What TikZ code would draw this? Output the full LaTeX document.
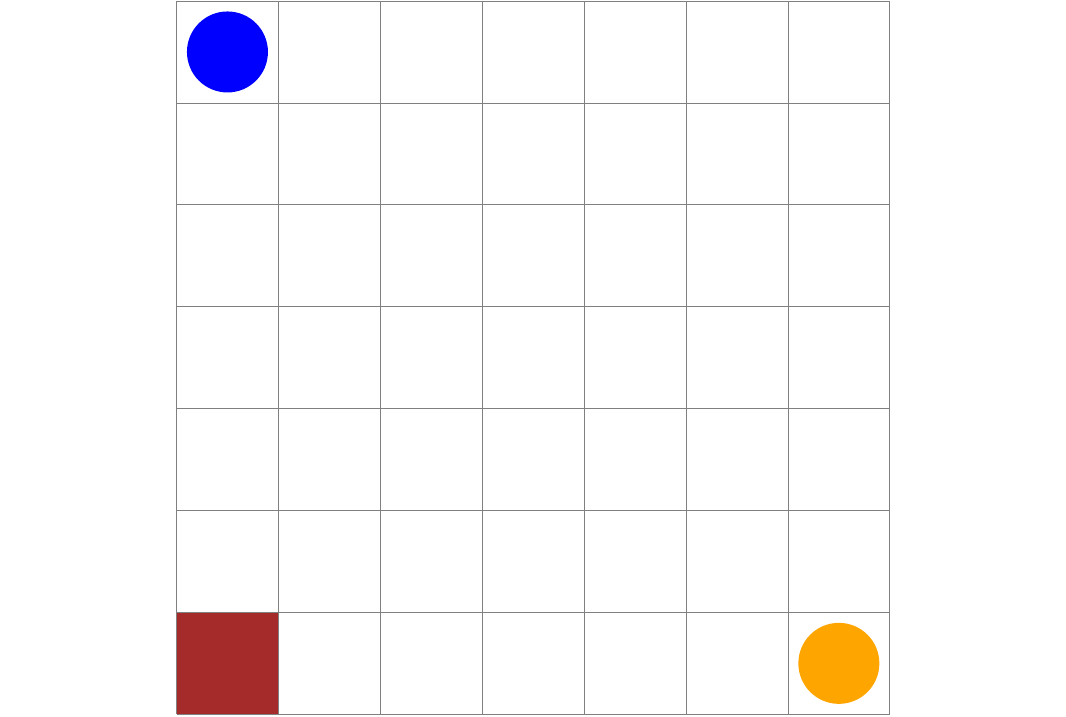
\documentclass[tikz,border=0pt]{standalone}
\usepackage{tikz}
\definecolor{agentblue}{HTML}{0000FF}
\definecolor{goalorange}{HTML}{FFA500}
\definecolor{wallbrown}{HTML}{A52A2A}

\begin{document}
\begin{tikzpicture}[x=1pt,y=-1pt]
\useasboundingbox (0,0) rectangle (1066,716);
\begin{scope}[shift={(176.5,1)},x=101.9pt,y=-101.9pt]
\node[fill=wallbrown, minimum size=101.9pt, inner sep=0pt] (W) at (0.5,6.5) {};
\foreach \i in {0,...,7} {
  \draw[gray, line width=0.8pt] (\i,0) -- (\i,7);
  \draw[gray, line width=0.8pt] (0,\i) -- (7,\i);
}
\node[circle, fill=agentblue, minimum size=81pt, inner sep=0pt] (A) at (0.5,0.5) {};
\node[circle, fill=goalorange, minimum size=81pt, inner sep=0pt] (G) at (6.5,6.5) {};
\end{scope}
\end{tikzpicture}
\end{document}
